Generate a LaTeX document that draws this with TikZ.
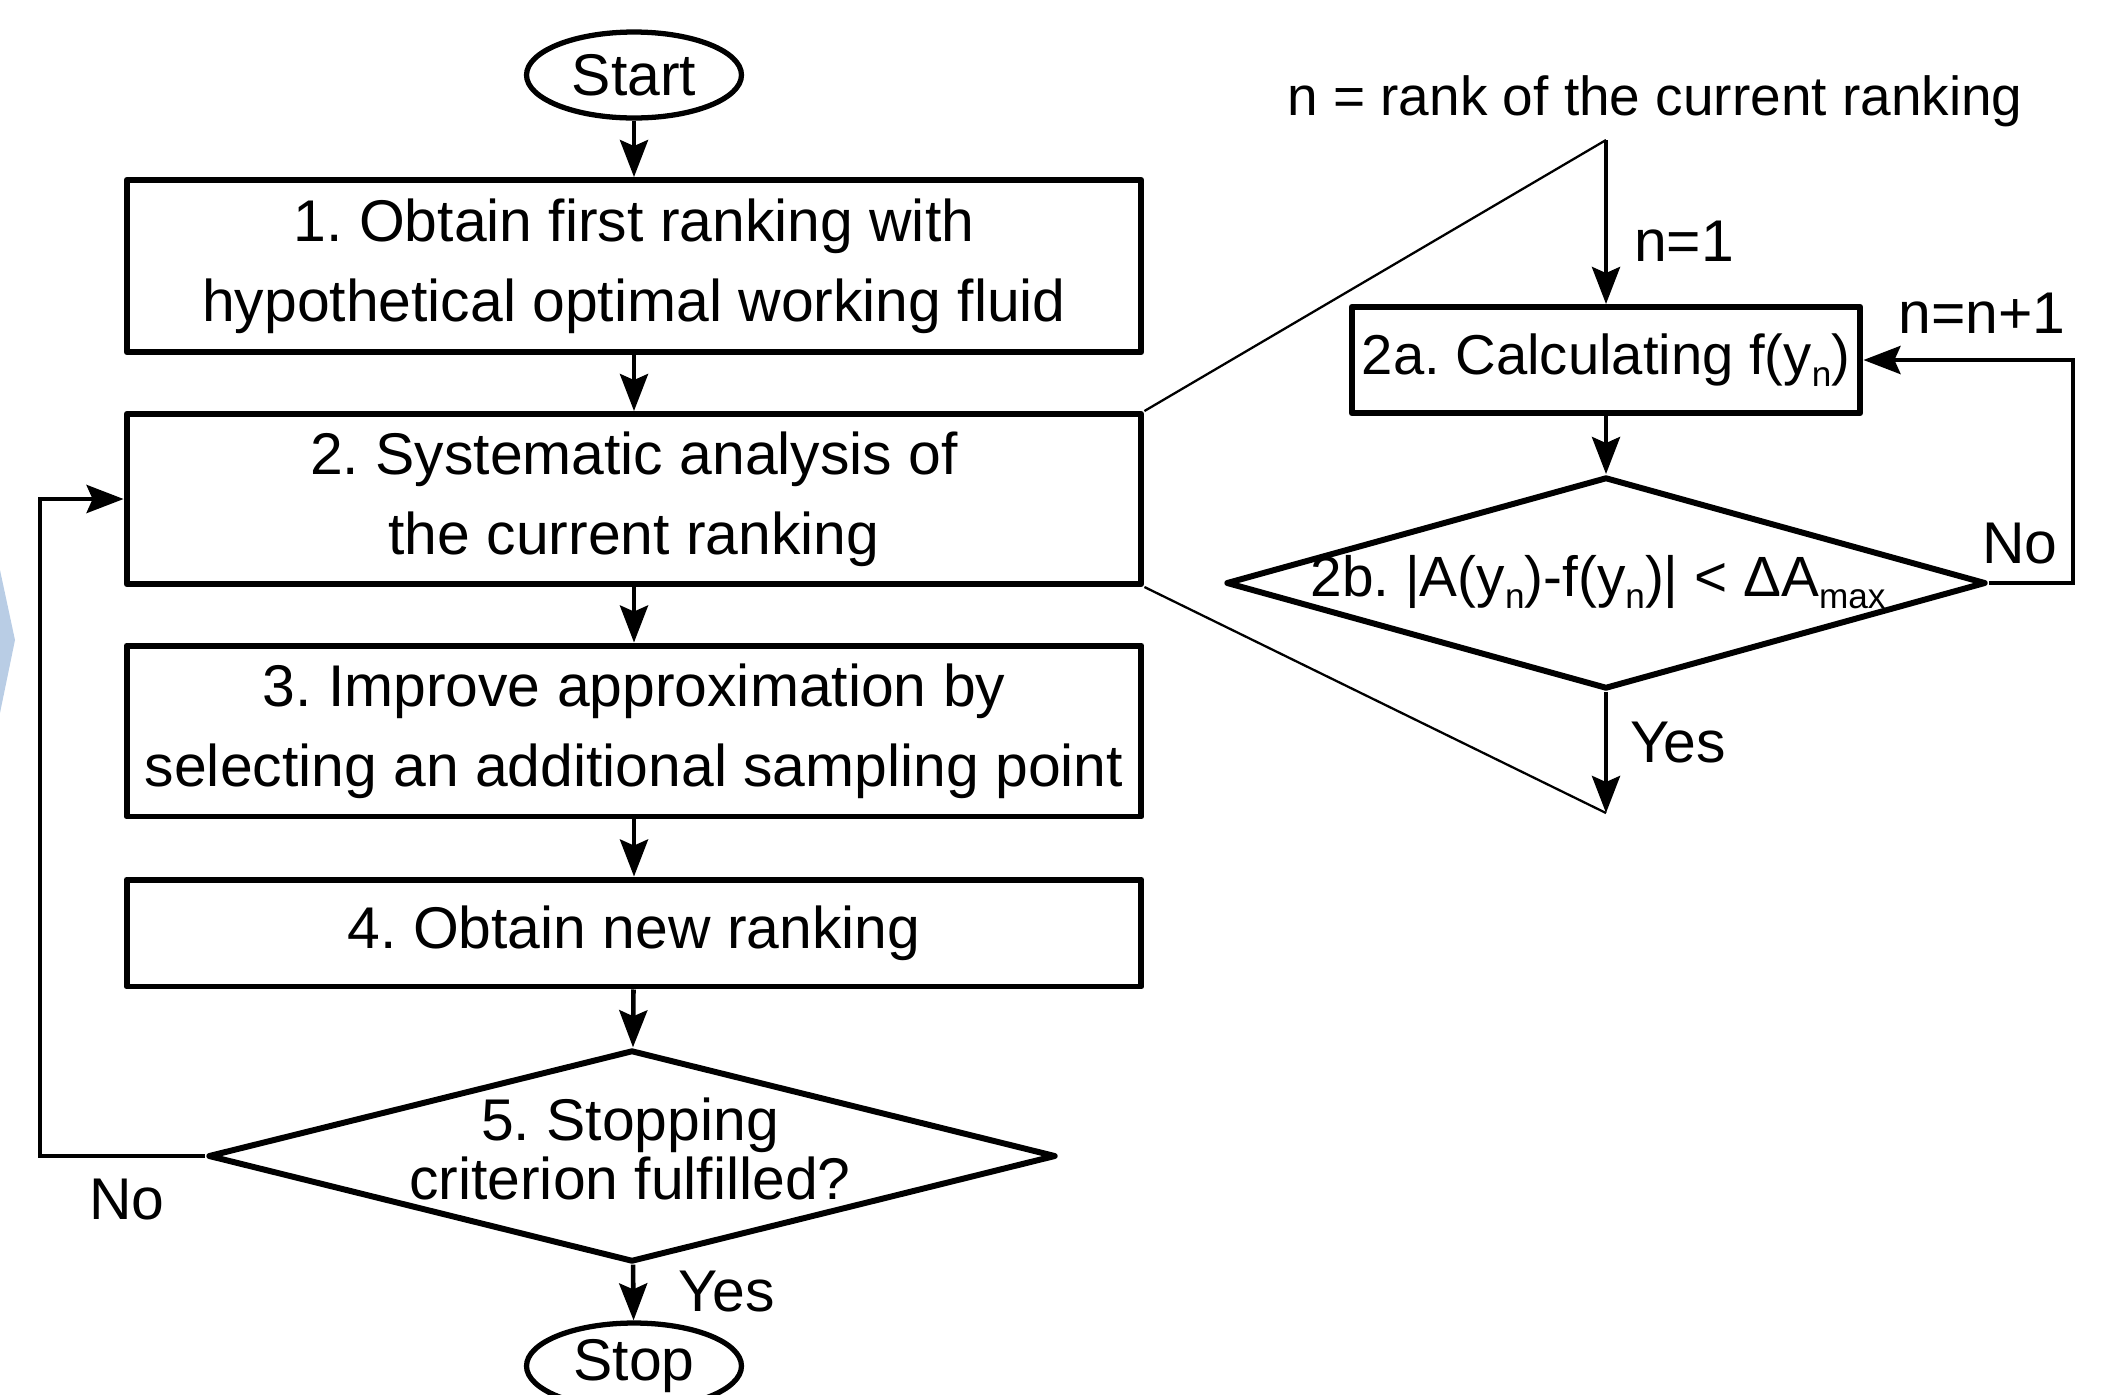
\documentclass[tikz,border=0pt]{standalone}
\usepackage{fontspec}
\setmainfont{Liberation Sans}
\setsansfont{Liberation Sans}
\RequirePackage{xcolor}
\definecolor{edgeblue}{HTML}{B9CDE5}
\newcommand{\lowidx}[1]{\raisebox{-0.22em}{\fontsize{20}{20}\selectfont #1}}
\tikzset{every picture/.style={/utils/exec={\sffamily\frenchspacing}}}
\usetikzlibrary{positioning}
\usetikzlibrary{shapes.geometric,arrows.meta}

\begin{document}
\begin{tikzpicture}[x=0.02cm, y=-0.02cm, font=\fontsize{33.5}{45.5}\selectfont,
    box/.style={draw, line width=3.4pt, line join=round, inner sep=4pt, align=center},
    term/.style={draw, ellipse, line width=3pt, minimum width=4.3cm, minimum height=1.72cm, inner sep=0pt},
    decide/.style={draw, diamond, line width=3.4pt, line join=round, inner sep=0pt},
    flow/.style={line width=2.6pt, -{Stealth[length=0.74cm, width=0.56cm, inset=0.12cm]}},
    fan/.style={line width=1.3pt}]
  \useasboundingbox (0,0) rectangle (2106,1394);
  \fill [edgeblue] (0,570) -- (15,640) -- (0,713) -- cycle;

  % main flow
  \node [term] (start) at (634,75) {Start};
  \node [box, minimum width=20.3cm, minimum height=3.44cm] (s1) at (634,266) {1. Obtain first ranking with\\hypothetical optimal working fluid};
  \node [box, minimum width=20.3cm, minimum height=3.4cm] (s2) at (634,499) {2. Systematic analysis of\\the current ranking};
  \node [box, minimum width=20.3cm, minimum height=3.42cm] (s3) at (634,731) {3. Improve approximation by\\selecting an additional sampling point};
  \node [box, minimum width=20.3cm, minimum height=2.14cm] (s4) at (634,933) {4. Obtain new ranking};
  \node [decide, minimum width=16.96cm, minimum height=4.24cm] (s5) at (632,1156) {};
  \node [align=center, font=\fontsize{33.5}{34}\selectfont] (t5) at (630,1149) {5. Stopping\\criterion fulfilled?};
  \node [term] (stop) at (634,1366) {Stop};

  \draw [flow] (start) -- (s1);
  \draw [flow] (s1) -- (s2);
  \draw [flow] (s2) -- (s3);
  \draw [flow] (s3) -- (s4);
  \draw [flow] (s4) -- (s5);
  \draw [flow] (s5) -- (stop);
  \draw [flow] (s5.west) -- ++(-165,0) |- (s2.west);

  \node (no5) at (127,1200) {No};
  \node (yes5) at (727,1292) {Yes};

  % detail of step 2
  \node [font=\fontsize{31.3}{40}\selectfont] (rank) at (1655,101) {n = rank of the current ranking};
  \coordinate (apex) at (1606,140);
  \coordinate (foot) at (1606,813);
  \node [box, font=\fontsize{32}{40}\selectfont, inner sep=1pt, minimum width=10.18cm, minimum height=2.12cm] (s2a) at (1606,360) {2a. Calculating f(y\lowidx{n})};
  \node [decide, minimum width=15.2cm, minimum height=4.24cm] (s2b) at (1606,583) {};
  \node [font=\fontsize{32.3}{40}\selectfont] (t2b) at (1598,582) {2b. |A(y\lowidx{n})-f(y\lowidx{n})| < ΔA\lowidx{max}};

  \draw [fan] (s2.north east) -- (apex) (s2.south east) -- (foot);
  \draw [flow] (apex) -- (s2a);
  \draw [flow] (s2a) -- (s2b);
  \draw [flow] (s2b) -- (foot);
  \draw [flow] (s2b.east) -- ++(84,0) |- (s2a.east);

  \node (n1) at (1684,241) {n=1};
  \node (nnext) at (1982,313) {n=n+1};
  \node (no2b) at (2020,544) {No};
  \node (yes2b) at (1678,743) {Yes};
\end{tikzpicture}
\end{document}
